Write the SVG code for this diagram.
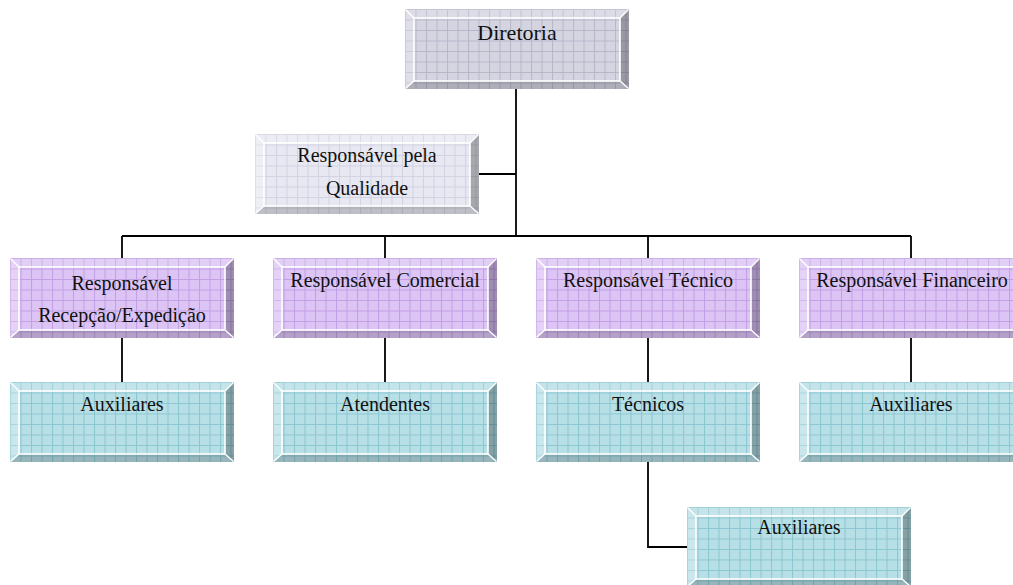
<svg xmlns="http://www.w3.org/2000/svg" width="1013" height="585" viewBox="0 0 1013 585">
  <defs>
    <!-- grid textures for each box colour -->
    <pattern id="gLav" width="10.5" height="10.5" patternUnits="userSpaceOnUse">
      <rect width="10.5" height="10.5" fill="#d5d5e2"/>
      <path d="M0 0.5H10.5M0.5 0V10.5" stroke="#b7b7ca" stroke-width="1"/>
    </pattern>
    <pattern id="gPale" width="10.5" height="10.5" patternUnits="userSpaceOnUse">
      <rect width="10.5" height="10.5" fill="#e8e8f2"/>
      <path d="M0 0.5H10.5M0.5 0V10.5" stroke="#d2d2e2" stroke-width="1"/>
    </pattern>
    <pattern id="gVio" width="10.5" height="10.5" patternUnits="userSpaceOnUse">
      <rect width="10.5" height="10.5" fill="#dcc5f5"/>
      <path d="M0 0.5H10.5M0.5 0V10.5" stroke="#c29ee4" stroke-width="1"/>
    </pattern>
    <pattern id="gTeal" width="10.5" height="10.5" patternUnits="userSpaceOnUse">
      <rect width="10.5" height="10.5" fill="#b7dfe6"/>
      <path d="M0 0.5H10.5M0.5 0V10.5" stroke="#8cc6d1" stroke-width="1"/>
    </pattern>

    <!-- bevelled frame shared by all boxes (224 x 80) -->
    <g id="bevel">
      <polygon points="0,0 224,0 215,9 9,9" fill="#ffffff" fill-opacity="0.18"/>
      <polygon points="0,0 9,9 9,72 0,80" fill="#ffffff" fill-opacity="0.25"/>
      <polygon points="224,0 224,80 215,72 215,9" fill="#000000" fill-opacity="0.28"/>
      <polygon points="0,80 9,72 215,72 224,80" fill="#000000" fill-opacity="0.18"/>
      <rect x="9" y="9" width="206" height="63" fill="none" stroke="#ffffff" stroke-width="1.6"/>
      <path d="M0.5 0.5L9 9M223.5 0.5L215 9M0.5 79.5L9 72M223.5 79.5L215 72" stroke="#ffffff" stroke-width="1.4"/>
    </g>
  </defs>

  <style>
    text { font-family: "Liberation Serif", "Times New Roman", serif; font-size: 20px; fill: #111111; text-anchor: middle; }
    .big { font-size: 22px; }
    .lav { fill: url(#gLav); }
    .pale { fill: url(#gPale); }
    .vio { fill: url(#gVio); }
    .teal { fill: url(#gTeal); }
    .wire { fill: none; stroke: #000000; stroke-width: 1.8; }
  </style>

  <rect width="1013" height="585" fill="#ffffff"/>

  <!-- connectors -->
  <g id="connectors" class="wire">
    <path d="M516 89V236"/>
    <path d="M479 174H516"/>
    <path d="M122 236H911"/>
    <path d="M122 236V258M385 236V258M648 236V258M911 236V258"/>
    <path d="M122 338V382M385 338V382M648 338V382M911 338V382"/>
    <path d="M648 462V547H687"/>
  </g>

  <!-- nodes -->
  <g id="diretoria" transform="translate(405,9)">
    <rect class="lav" width="224" height="80"/>
    <use href="#bevel"/>
    <text class="big" x="112" y="31">Diretoria</text>
  </g>

  <g id="qualidade" transform="translate(255,134)">
    <rect class="pale" width="224" height="80"/>
    <use href="#bevel"/>
    <text x="112" y="28">Responsável pela</text>
    <text x="112" y="61">Qualidade</text>
  </g>

  <g id="recepcao" transform="translate(10,258)">
    <rect class="vio" width="224" height="80"/>
    <use href="#bevel"/>
    <text x="112" y="32">Responsável</text>
    <text x="112" y="64">Recepção/Expedição</text>
  </g>

  <g id="comercial" transform="translate(273,258)">
    <rect class="vio" width="224" height="80"/>
    <use href="#bevel"/>
    <text x="112" y="29">Responsável Comercial</text>
  </g>

  <g id="tecnico" transform="translate(536,258)">
    <rect class="vio" width="224" height="80"/>
    <use href="#bevel"/>
    <text x="112" y="29">Responsável Técnico</text>
  </g>

  <g id="financeiro" transform="translate(799,258)">
    <rect class="vio" width="224" height="80"/>
    <use href="#bevel"/>
    <text x="113" y="29">Responsável Financeiro</text>
  </g>

  <g id="auxiliares-recepcao" transform="translate(10,382)">
    <rect class="teal" width="224" height="80"/>
    <use href="#bevel"/>
    <text x="112" y="29">Auxiliares</text>
  </g>

  <g id="atendentes" transform="translate(273,382)">
    <rect class="teal" width="224" height="80"/>
    <use href="#bevel"/>
    <text x="112" y="29">Atendentes</text>
  </g>

  <g id="tecnicos" transform="translate(536,382)">
    <rect class="teal" width="224" height="80"/>
    <use href="#bevel"/>
    <text x="112" y="29">Técnicos</text>
  </g>

  <g id="auxiliares-financeiro" transform="translate(799,382)">
    <rect class="teal" width="224" height="80"/>
    <use href="#bevel"/>
    <text x="112" y="29">Auxiliares</text>
  </g>

  <g id="auxiliares-tecnicos" transform="translate(687,507)">
    <rect class="teal" width="224" height="80"/>
    <use href="#bevel"/>
    <text x="112" y="27">Auxiliares</text>
  </g>
</svg>
